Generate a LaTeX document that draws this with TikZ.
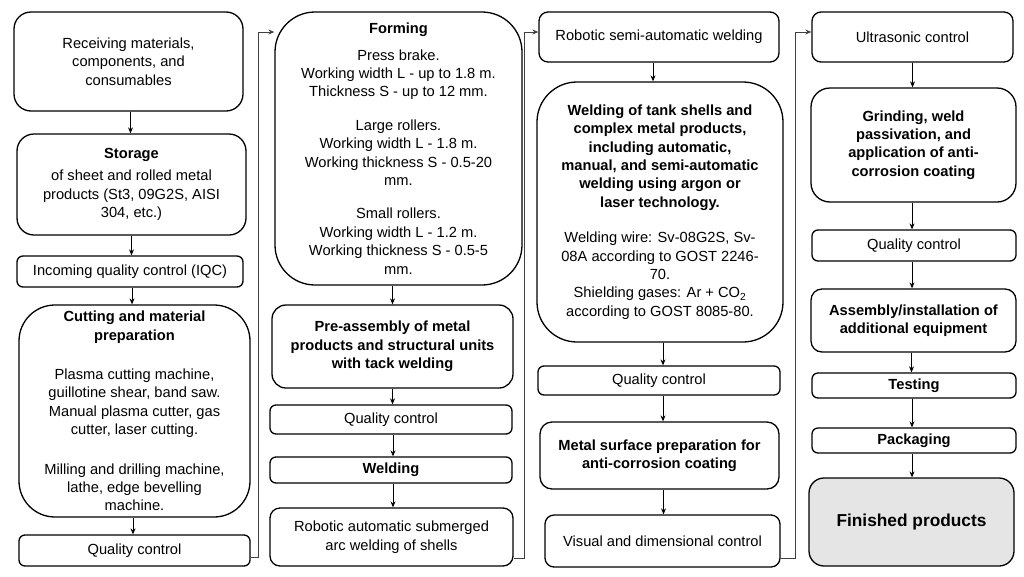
\documentclass[tikz,border=0pt]{standalone}
\usepackage{fontspec}
\setmainfont{Liberation Sans}
\usetikzlibrary{arrows.meta,calc}
\newcommand\mybox[8][]{\node[box,#1, rounded corners=#7pt, minimum width={(#5-#3)*1pt}, minimum height={(#6-#4)*1pt}] (#2) at ({(#3+#5)/2},{(#4+#6)/2}) {#8};}
\begin{document}
\begin{tikzpicture}[x=1pt,y=-1pt,
  box/.style={draw=black, line width=1.3pt, align=center, inner sep=0pt, font=\fontsize{14.67}{18.4}\selectfont},
  arr/.style={line width=0.9pt, -{Stealth[length=6pt,width=5pt]}},
  conn/.style={line width=1pt, draw=black!75, -{Stealth[length=6pt,width=5pt]}}]
\useasboundingbox (0,0) rectangle (1024,576);
\coordinate (top) at (0,32);
% column 1
\mybox{recv}{14}{12}{243}{111}{17}{Receiving materials,\\components, and\\consumables}
\mybox{stor}{17}{134}{246}{235}{17}{\textbf{Storage}\\[4pt]of sheet and rolled metal\\products (St3, 09G2S, AISI\\304, etc.)}
\mybox{iqc}{17}{256}{243}{287}{6}{Incoming quality control (IQC)}
\mybox{cut}{19}{305}{250}{517}{36}{\textbf{Cutting and material}\\\textbf{preparation}\\[21pt]Plasma cutting machine,\\guillotine shear, band saw.\\Manual plasma cutter, gas\\cutter, laser cutting.\\[21pt]Milling and drilling machine,\\lathe, edge bevelling\\machine.}
\mybox{qc1}{19}{535}{250}{566}{6}{Quality control}
% column 2
\mybox{form}{275}{12}{522}{285}{40}{\textbf{Forming}\\[8pt]Press brake.\\Working width L - up to 1.8 m.\\Thickness S - up to 12 mm.\\[15pt]Large rollers.\\Working width L - 1.8 m.\\Working thickness S - 0.5-20\\mm.\\[15pt]Small rollers.\\Working width L - 1.2 m.\\Working thickness S - 0.5-5\\mm.}
\mybox{pre}{272}{305}{513}{388}{14}{\textbf{Pre-assembly of metal}\\\textbf{products and structural units}\\\textbf{with tack welding}}
\mybox{qc2}{270}{405}{512}{434}{6}{Quality control}
\mybox{weld}{270}{457}{512}{483}{6}{\textbf{Welding}}
\mybox{rauto}{270}{508}{513}{566}{10}{Robotic automatic submerged\\arc welding of shells}
% column 3
\mybox{rsemi}{539}{12}{779}{62}{9}{Robotic semi-automatic welding}
\mybox{wtank}{537}{82}{783}{342}{40}{\textbf{Welding of tank shells and}\\\textbf{complex metal products,}\\\textbf{including automatic,}\\\textbf{manual, and semi-automatic}\\\textbf{welding using argon or}\\\textbf{laser technology.}\\[17pt]Welding wire: Sv-08G2S, Sv-\\08A according to GOST 2246-\\70.\\Shielding gases: Ar + CO\textsubscript{2}\\according to GOST 8085-80.}
\mybox{qc3}{538}{366}{780}{395}{6}{Quality control}
\mybox{msurf}{540}{422}{779}{489}{12}{\textbf{Metal surface preparation for}\\\textbf{anti-corrosion coating}}
\mybox{vis}{545}{515}{780}{567}{9}{Visual and dimensional control}
% column 4
\mybox{ultra}{812}{12}{1013}{62}{9}{Ultrasonic control}
\mybox{grind}{811}{88}{1016}{202}{19}{\textbf{Grinding, weld}\\\textbf{passivation, and}\\\textbf{application of anti-}\\\textbf{corrosion coating}}
\mybox{qc4}{812}{230}{1016}{261}{6}{Quality control}
\mybox{assem}{811}{289}{1016}{352}{11}{\textbf{Assembly/installation of}\\\textbf{additional equipment}}
\mybox{test}{812}{373}{1016}{398}{6}{\textbf{Testing}}
\mybox{pack}{812}{428}{1016}{453}{6}{\textbf{Packaging}}
\mybox[fill=black!10, font=\fontsize{17.3}{20}\selectfont\bfseries]{fin}{809}{478}{1014}{566}{15}{Finished products}
% vertical arrows
\draw[arr] ([xshift=2pt]recv.south) -- ([xshift=2pt]recv.south |- stor.north);
\draw[arr] (stor.south) -- (stor.south |- iqc.north);
\draw[arr] ([xshift=2pt]iqc.south) -- ([xshift=2pt]iqc.south |- cut.north);
\draw[arr] ([xshift=-1.5pt]cut.south) -- ([xshift=-1.5pt]cut.south |- qc1.north);
\draw[arr] (form.south -| pre.north) -- (pre.north);
\draw[arr] (pre.south) -- (pre.south |- qc2.north);
\draw[arr] ([xshift=2pt]qc2.south) -- ([xshift=2pt]qc2.south |- weld.north);
\draw[arr] ([xshift=2pt]weld.south) -- ([xshift=2pt]weld.south |- rauto.north);
\draw[arr] ([xshift=-6pt]rsemi.south) -- ([xshift=-6pt]rsemi.south |- wtank.north);
\draw[arr] ([xshift=3pt]wtank.south) -- ([xshift=3pt]wtank.south |- qc3.north);
\draw[arr] ([xshift=4pt]qc3.south) -- ([xshift=4pt]qc3.south |- msurf.north);
\draw[arr] ([xshift=4pt]msurf.south) -- ([xshift=4pt]msurf.south |- vis.north);
\draw[arr] (ultra.south) -- (ultra.south |- grind.north);
\draw[arr] ([xshift=-1.5pt]grind.south) -- ([xshift=-1.5pt]grind.south |- qc4.north);
\draw[arr] ([xshift=-2pt]qc4.south) -- ([xshift=-2pt]qc4.south |- assem.north);
\draw[arr] ([xshift=-2pt]assem.south) -- ([xshift=-2pt]assem.south |- test.north);
\draw[arr] ([xshift=-2pt]test.south) -- ([xshift=-2pt]test.south |- pack.north);
\draw[arr] ([xshift=-2pt]pack.south) -- ([xshift=-2pt]pack.south |- fin.north);
% column connectors
\draw[conn] ([yshift=-6.5pt]qc1.east) -- ++(8,0) |- (form.west |- top);
\draw[conn] ([yshift=-21pt]rauto.east) -- ++(11,0) |- (rsemi.west |- top);
\draw[conn] ([yshift=-17pt]vis.east) -- ++(15,0) |- (ultra.west |- top);
\end{tikzpicture}
\end{document}
